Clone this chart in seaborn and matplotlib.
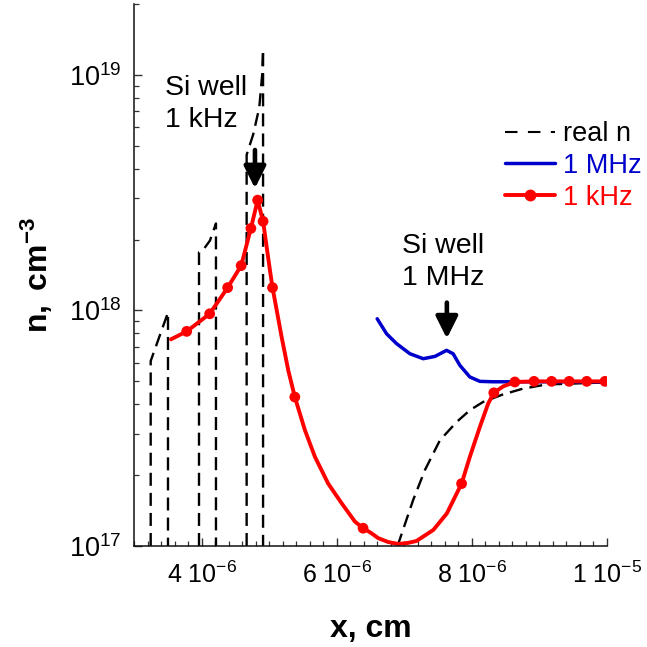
import numpy as np
import pandas as pd
import matplotlib
matplotlib.use("Agg")
import matplotlib.pyplot as plt
import seaborn as sns
from matplotlib.lines import Line2D
from matplotlib.ticker import FixedLocator, MultipleLocator, NullFormatter, FixedFormatter

# ---------------- data (x in cm, n in cm^-3) ----------------
# "real n" profile: three Si wells (dashed) and the rise after the barrier
real_seg = [0, 0, 0, 0,
            1, 1, 1, 1, 1, 1,
            2, 2, 2, 2, 2, 2, 2,
            3, 3, 3, 3, 3, 3, 3, 3, 3, 3, 3]
real_x = [3.247e-6, 3.247e-6, 3.503e-6, 3.503e-6,
          3.962e-6, 3.962e-6, 4.025e-6, 4.124e-6, 4.213e-6, 4.213e-6,
          4.667e-6, 4.667e-6, 4.765e-6, 4.854e-6, 4.898e-6, 4.910e-6, 4.910e-6,
          6.90e-6, 7.132e-6, 7.305e-6, 7.527e-6, 7.774e-6, 7.97e-6, 8.167e-6, 8.46e-6,
          8.75e-6, 9.10e-6, 1.0e-5]
real_n = [1.0e17, 6.1e17, 9.8e17, 1.0e17,
          1.0e17, 1.77e18, 1.81e18, 1.98e18, 2.34e18, 1.0e17,
          1.0e17, 4.58e18, 5.6e18, 7.27e18, 1.01e19, 1.28e19, 1.0e17,
          1.0e17, 1.57e17, 2.10e17, 2.81e17, 3.36e17, 3.77e17, 4.09e17, 4.40e17,
          4.65e17, 4.85e17, 4.95e17]

# 1 MHz curve
mhz_x = [6.599e-6, 6.738e-6, 6.886e-6, 7.083e-6, 7.28e-6, 7.453e-6, 7.626e-6, 7.723e-6,
         7.822e-6, 7.97e-6, 8.118e-6, 8.315e-6, 1.0e-5]
mhz_n = [9.22e17, 7.96e17, 7.23e17, 6.55e17, 6.24e17, 6.38e17, 6.77e17, 6.55e17,
         5.85e17, 5.22e17, 5.0e17, 4.98e17, 4.98e17]

# 1 kHz curve (line)
khz_x = [3.547e-6, 3.78e-6, 4.12e-6, 4.386e-6, 4.586e-6, 4.73e-6, 4.83e-6, 4.91e-6,
         5.012e-6, 5.05e-6, 5.185e-6, 5.283e-6, 5.38e-6, 5.53e-6, 5.678e-6, 5.874e-6,
         6.072e-6, 6.269e-6, 6.39e-6, 6.50e-6, 6.614e-6, 6.76e-6, 6.91e-6, 7.05e-6,
         7.18e-6, 7.43e-6, 7.63e-6, 7.848e-6, 7.97e-6, 8.118e-6, 8.241e-6, 8.325e-6,
         8.463e-6, 8.636e-6, 8.92e-6, 9.18e-6, 9.44e-6, 9.70e-6, 9.97e-6]
khz_n = [7.54e17, 8.15e17, 9.68e17, 1.25e18, 1.55e18, 2.23e18, 2.94e18, 2.39e18,
         1.48e18, 1.25e18, 7.71e17, 5.57e17, 4.29e17, 3.10e17, 2.39e17, 1.84e17,
         1.52e17, 1.27e17, 1.19e17, 1.14e17, 1.08e17, 1.04e17, 1.02e17, 1.03e17,
         1.05e17, 1.17e17, 1.375e17, 1.84e17, 2.39e17, 3.20e17, 4.02e17, 4.47e17,
         4.76e17, 4.97e17, 5.0e17, 5.0e17, 5.0e17, 5.0e17, 5.0e17]
# 1 kHz markers
khz_mx = [3.78e-6, 4.12e-6, 4.386e-6, 4.586e-6, 4.73e-6, 4.83e-6, 4.91e-6, 5.05e-6,
          5.38e-6, 6.39e-6, 7.848e-6, 8.325e-6, 8.636e-6, 8.92e-6, 9.18e-6, 9.44e-6,
          9.70e-6, 9.97e-6]
khz_mn = [8.15e17, 9.68e17, 1.25e18, 1.55e18, 2.23e18, 2.94e18, 2.39e18, 1.25e18,
          4.29e17, 1.19e17, 1.84e17, 4.47e17, 4.97e17, 5.0e17, 5.0e17, 5.0e17,
          5.0e17, 5.0e17]

x_ticks = [4e-6, 6e-6, 8e-6, 1e-5]
x_tick_labels = ["4 10$^{-6}$", "6 10$^{-6}$", "8 10$^{-6}$", "1 10$^{-5}$"]
y_ticks = [1e17, 1e18, 1e19]
y_tick_labels = ["10$^{17}$", "10$^{18}$", "10$^{19}$"]

series_labels = ["real n", "1 MHz", "1 kHz"]
series_colors = ["black", "#0000CC", "#FF0000"]

# ---------------- style ----------------
sns.set_style("ticks")
plt.rcParams["font.family"] = ["Liberation Sans", "DejaVu Sans"]
plt.rcParams["mathtext.fontset"] = "custom"
plt.rcParams["mathtext.rm"] = "Liberation Sans"
plt.rcParams["mathtext.it"] = "Liberation Sans:italic"
plt.rcParams["mathtext.bf"] = "Liberation Sans:bold"
plt.rcParams["text.color"] = "black"
plt.rcParams["axes.labelcolor"] = "black"
plt.rcParams["xtick.color"] = "black"
plt.rcParams["ytick.color"] = "black"

fig = plt.figure(figsize=(6.47, 6.47), dpi=100)
ax = fig.add_axes([134 / 647, 101 / 647, 473 / 647, 542 / 647])

dash = (0, (5.5, 3))
df_real = pd.DataFrame({"x": real_x, "n": real_n, "seg": real_seg})
sns.lineplot(data=df_real, x="x", y="n", units="seg", estimator=None, sort=False,
             color=series_colors[0], lw=1.7, linestyle=dash, ax=ax)
sns.lineplot(x=mhz_x, y=mhz_n, estimator=None, sort=False, color=series_colors[1],
             lw=2.5, solid_joinstyle="round", ax=ax)
sns.lineplot(x=khz_x, y=khz_n, estimator=None, sort=False, color=series_colors[2],
             lw=2.8, solid_joinstyle="round", ax=ax)
sns.scatterplot(x=khz_mx, y=khz_mn, color=series_colors[2], s=60, edgecolor="none",
                ax=ax, zorder=5)

ax.set_yscale("log")
ax.set_xlim(3e-6, 1e-5)
ax.set_ylim(1e17, 2e19)

ax.xaxis.set_major_locator(FixedLocator(x_ticks))
ax.xaxis.set_major_formatter(FixedFormatter(x_tick_labels))
ax.xaxis.set_minor_locator(MultipleLocator(2e-7))
ax.yaxis.set_major_locator(FixedLocator(y_ticks))
ax.yaxis.set_major_formatter(FixedFormatter(y_tick_labels))
ax.yaxis.set_minor_formatter(NullFormatter())

ax.tick_params(axis="both", which="major", direction="in", length=6, width=1.0,
               color="#333333")
ax.tick_params(axis="both", which="minor", direction="in", length=3.5, width=0.9,
               color="#333333")
ax.tick_params(axis="x", which="major", labelsize=18, pad=11)
ax.tick_params(axis="y", which="major", labelsize=19.5, pad=9)

for s in ["top", "right"]:
    ax.spines[s].set_visible(False)
for s in ["left", "bottom"]:
    ax.spines[s].set_linewidth(1.1)
    ax.spines[s].set_color("#111111")

ax.set_xlabel("x, cm", fontsize=23, fontweight="bold", labelpad=19)
ax.set_ylabel(r"$\mathbf{n,\ cm^{-3}}$", fontsize=23, labelpad=10)

# annotations
ax.text(3.46e-6, 7.5e18, "Si well\n1 kHz", fontsize=20.5, ha="left", va="center",
        linespacing=1.3)
ax.text(6.964e-6, 1.61e18, "Si well\n1 MHz", fontsize=20.5, ha="left", va="center",
        linespacing=1.3)
arrow_kw = dict(arrowstyle="-|>,head_length=0.6,head_width=0.3", color="black", lw=3.3,
                mutation_scale=22, shrinkA=0, shrinkB=0)
ax.annotate("", xy=(4.79e-6, 3.3e18), xytext=(4.79e-6, 4.8e18), arrowprops=arrow_kw)
ax.annotate("", xy=(7.63e-6, 7.6e17), xytext=(7.63e-6, 1.08e18), arrowprops=arrow_kw)

# legend
handles = [
    Line2D([], [], color=series_colors[0], lw=1.5, linestyle=(0, (6, 5))),
    Line2D([], [], color=series_colors[1], lw=2.5),
    Line2D([], [], color=series_colors[2], lw=2.8, marker="o", markersize=7.5),
]
leg = ax.legend(handles, series_labels, loc="upper left",
                bbox_to_anchor=(505 / 647, 1 - 121 / 647), bbox_transform=fig.transFigure,
                frameon=False, fontsize=19.5, handlelength=1.85, handletextpad=0.3,
                borderpad=0, borderaxespad=0, labelspacing=0.22,
                labelcolor=series_colors)

fig.savefig("out.png", dpi=100)
